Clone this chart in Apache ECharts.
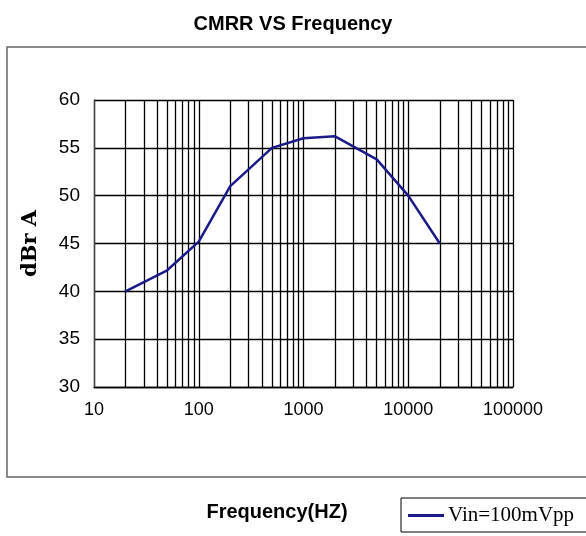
<!DOCTYPE html>
<html><head><meta charset="utf-8">
<script src="https://cdn.jsdelivr.net/npm/echarts@6/dist/echarts.min.js"></script>
<style>html,body{margin:0;padding:0;background:#fff}#c{width:586px;height:536px}</style>
</head><body><div id="c"></div>
<script>
const freqs = [20, 50, 100, 200, 500, 1000, 2000, 5000, 10000, 20000];
const cmrr  = [40, 42.2, 45.2, 51, 55, 56, 56.2, 53.8, 50, 45];
const seriesName = 'Vin=100mVpp';
const minorMultipliers = [2, 3, 4, 5, 6, 7, 8, 9];
const decades = [10, 100, 1000, 10000];
const yTicks = [30, 35, 40, 45, 50, 55, 60];

const minorLines = [];
decades.forEach(d => minorMultipliers.forEach(m => minorLines.push({xAxis: d * m})));

const chart = echarts.init(document.getElementById('c'));
chart.setOption({
  animation: false,
  backgroundColor: '#fff',
  title: {
    text: 'CMRR VS Frequency', left: 'center', top: 9,
    textStyle: {fontFamily: 'Liberation Sans, Arial', fontWeight: 'bold', fontSize: 20, color: '#000'}
  },
  graphic: [
    {type: 'rect', shape: {x: 7, y: 47, width: 600, height: 430}, style: {fill: 'none', stroke: '#666', lineWidth: 1.5}, z: -1},
    {type: 'text', style: {text: 'Frequency(HZ)', x: 277, y: 512, align: 'center', verticalAlign: 'middle',
      font: 'bold 20px "Liberation Sans", Arial', fill: '#000'}}
  ],
  legend: {
    left: 401, top: 498, data: [seriesName], icon: 'rect', itemWidth: 36, itemHeight: 3,
    borderColor: '#000', borderWidth: 1, padding: [7, 30, 6, 7], itemGap: 4,
    textStyle: {fontFamily: 'Liberation Serif, serif', fontSize: 21, color: '#000', padding: [0,0,0,-1]}
  },
  grid: {left: 94, right: 73, top: 100, bottom: 149},
  xAxis: {
    type: 'log', logBase: 10, min: 10, max: 100000,
    axisLine: {show: true, lineStyle: {color: '#000', width: 1.3}},
    axisTick: {show: false},
    axisLabel: {margin: 14, fontFamily: 'Liberation Sans, Arial', fontSize: 18, color: '#000',
      formatter: v => String(Math.round(v))},
    splitLine: {show: true, lineStyle: {color: '#000', width: 1.3}}
  },
  yAxis: {
    type: 'value', min: 30, max: 60, interval: 5,
    name: 'dBr A', nameLocation: 'middle', nameRotate: 90, nameGap: 53,
    nameTextStyle: {fontFamily: 'DejaVu Serif, serif', fontWeight: 'bold', fontSize: 21, color: '#000'},
    axisLine: {show: true, lineStyle: {color: '#444', width: 1.3}},
    axisTick: {show: false},
    axisLabel: {margin: 14, fontFamily: 'Liberation Sans, Arial', fontSize: 19, color: '#000'},
    splitLine: {show: true, lineStyle: {color: '#000', width: 1.3}}
  },
  series: [{
    name: seriesName, type: 'line', symbol: 'none',
    data: freqs.map((f, i) => [f, cmrr[i]]),
    lineStyle: {color: '#1a1a8a', width: 2.5}, itemStyle: {color: '#1a1a8a'},
    z: 5,
    markLine: {
      silent: true, symbol: 'none', label: {show: false},
      lineStyle: {color: '#000', width: 1.3, type: 'solid'},
      data: minorLines, z: 1
    }
  }]
});
</script></body></html>
